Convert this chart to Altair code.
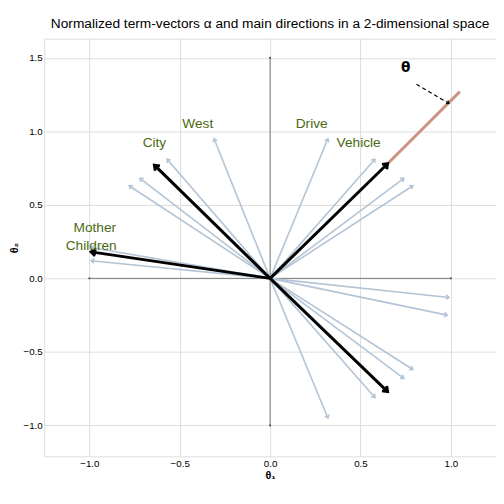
import numpy as np
import pandas as pd
import altair as alt

# term-vector end points (normalized)
term_x = [-0.57, -0.31, -0.72, -0.78, -0.99, -0.99, 0.32, 0.58, 0.74, 0.79,
          0.99, 0.98, 0.79, 0.74, 0.58, 0.32]
term_y = [0.81, 0.95, 0.68, 0.63, 0.21, 0.12, 0.95, 0.81, 0.68, 0.63,
          -0.13, -0.25, -0.62, -0.68, -0.81, -0.95]

# main directions
main_x = [-0.64, -0.99, 0.65, 0.65]
main_y = [0.77, 0.18, 0.78, -0.77]

words = ["West", "City", "Drive", "Vehicle", "Mother", "Children"]
word_x = [-0.40, -0.64, 0.23, 0.49, -0.97, -0.99]
word_y = [1.05, 0.92, 1.05, 0.92, 0.34, 0.22]

ext_x = [0.65, 1.05]
ext_y = [0.78, 1.27]

X_DOM = [-1.25, 1.25]
Y_DOM = [-1.21, 1.63]
W, H = 462, 427
sx = W / (X_DOM[1] - X_DOM[0])
sy = H / (Y_DOM[1] - Y_DOM[0])

CHEVRON = "M-0.6,0.8L0,0L0.6,0.8"


def segs(xs, ys, x0=None, y0=None):
    rows = []
    for i, (x, y) in enumerate(zip(xs, ys)):
        a = x0[i] if x0 else 0.0
        b = y0[i] if y0 else 0.0
        ang = np.degrees(np.arctan2((x - a) * sx, (y - b) * sy)) % 360
        rows.append({"id": i, "x": a, "y": b, "x2": x, "y2": y, "ang": float(ang)})
    return pd.DataFrame(rows)


xs = alt.Scale(domain=X_DOM, nice=False, zero=False)
ys = alt.Scale(domain=Y_DOM, nice=False, zero=False)


def arrows(df, color, width, head, dash=None):
    rule_kw = dict(color=color, strokeWidth=width)
    if dash:
        rule_kw["strokeDash"] = dash
    base = alt.Chart(df)
    shaft = base.mark_rule(**rule_kw).encode(
        x=alt.X("x:Q", scale=xs), y=alt.Y("y:Q", scale=ys),
        x2="x2:Q", y2="y2:Q")
    tip = base.mark_point(shape=CHEVRON, filled=False, color=color,
                          strokeWidth=width, size=head, opacity=1).encode(
        x=alt.X("x2:Q", scale=xs), y=alt.Y("y2:Q", scale=ys),
        angle=alt.Angle("ang:Q", scale=None))
    return shaft + tip


axes_df = pd.DataFrame({"x": [-1.0, 0.0], "y": [0.0, -1.0],
                        "x2": [1.0, 0.0], "y2": [0.0, 1.5]})
ax_lines = alt.Chart(axes_df).mark_rule(color="#777777", strokeWidth=1).encode(
    x=alt.X("x:Q", scale=xs, title="θ₁",
            axis=alt.Axis(values=[-1, -0.5, 0, 0.5, 1], format=".1f",
                          domain=False, ticks=False, titlePadding=2)),
    y=alt.Y("y:Q", scale=ys, title="θ₂",
            axis=alt.Axis(values=[-1, -0.5, 0, 0.5, 1, 1.5], format=".1f",
                          domain=False, ticks=False, titleAngle=270,
                          titlePadding=4)),
    x2="x2:Q", y2="y2:Q")
end_df = pd.DataFrame({"x": [-1.0, 1.0, 0.0, 0.0], "y": [0.0, 0.0, -1.0, 1.5]})
ax_dots = alt.Chart(end_df).mark_circle(color="#555555", size=5, opacity=1).encode(
    x=alt.X("x:Q", scale=xs), y=alt.Y("y:Q", scale=ys))

light = arrows(segs(term_x, term_y), "#b3c4d6", 1.6, 60)
ext = alt.Chart(pd.DataFrame({"x": [ext_x[0]], "y": [ext_y[0]],
                              "x2": [ext_x[1]], "y2": [ext_y[1]]})).mark_rule(
    color="#cc9480", strokeWidth=3).encode(
    x=alt.X("x:Q", scale=xs), y=alt.Y("y:Q", scale=ys), x2="x2:Q", y2="y2:Q")
main = arrows(segs(main_x, main_y), "black", 3, 130)
theta_arrow = arrows(segs([0.99], [1.19], [0.81], [1.32]), "black", 1.2, 40,
                     dash=[4, 3])

labels = alt.Chart(pd.DataFrame({"w": words, "x": word_x, "y": word_y})).mark_text(
    color="#4b6a12", fontSize=14, fontWeight=500, font="Liberation Sans").encode(
    x=alt.X("x:Q", scale=xs), y=alt.Y("y:Q", scale=ys), text="w:N")
theta_lbl = alt.Chart(pd.DataFrame({"t": ["θ"], "x": [0.75], "y": [1.43]})).mark_text(
    color="black", fontSize=14, fontWeight="bold", font="DejaVu Sans").encode(
    x=alt.X("x:Q", scale=xs), y=alt.Y("y:Q", scale=ys), text="t:N")

chart = alt.layer(ax_lines, ax_dots, light, ext, main, theta_arrow, labels,
                  theta_lbl).properties(
    width=W, height=H,
    title=alt.Title("Normalized term-vectors  α  and main directions in a 2-dimensional space",
                    fontSize=14, fontWeight="normal", font="Liberation Sans",
                    color="black", offset=8),
).configure_axis(
    grid=True, gridColor="#f2f2f2",
    labelColor="#7f7f7f", labelFontSize=10, labelFont="Liberation Sans",
    titleFont="DejaVu Sans", titleFontWeight="normal", titleFontSize=13,
    titleColor="#333333", labelPadding=4,
).configure_view(stroke=None).configure(padding={"left": 0, "top": 4, "right": 0, "bottom": 0})

chart.save("out.html", embed_options={"renderer": "svg", "actions": False})
